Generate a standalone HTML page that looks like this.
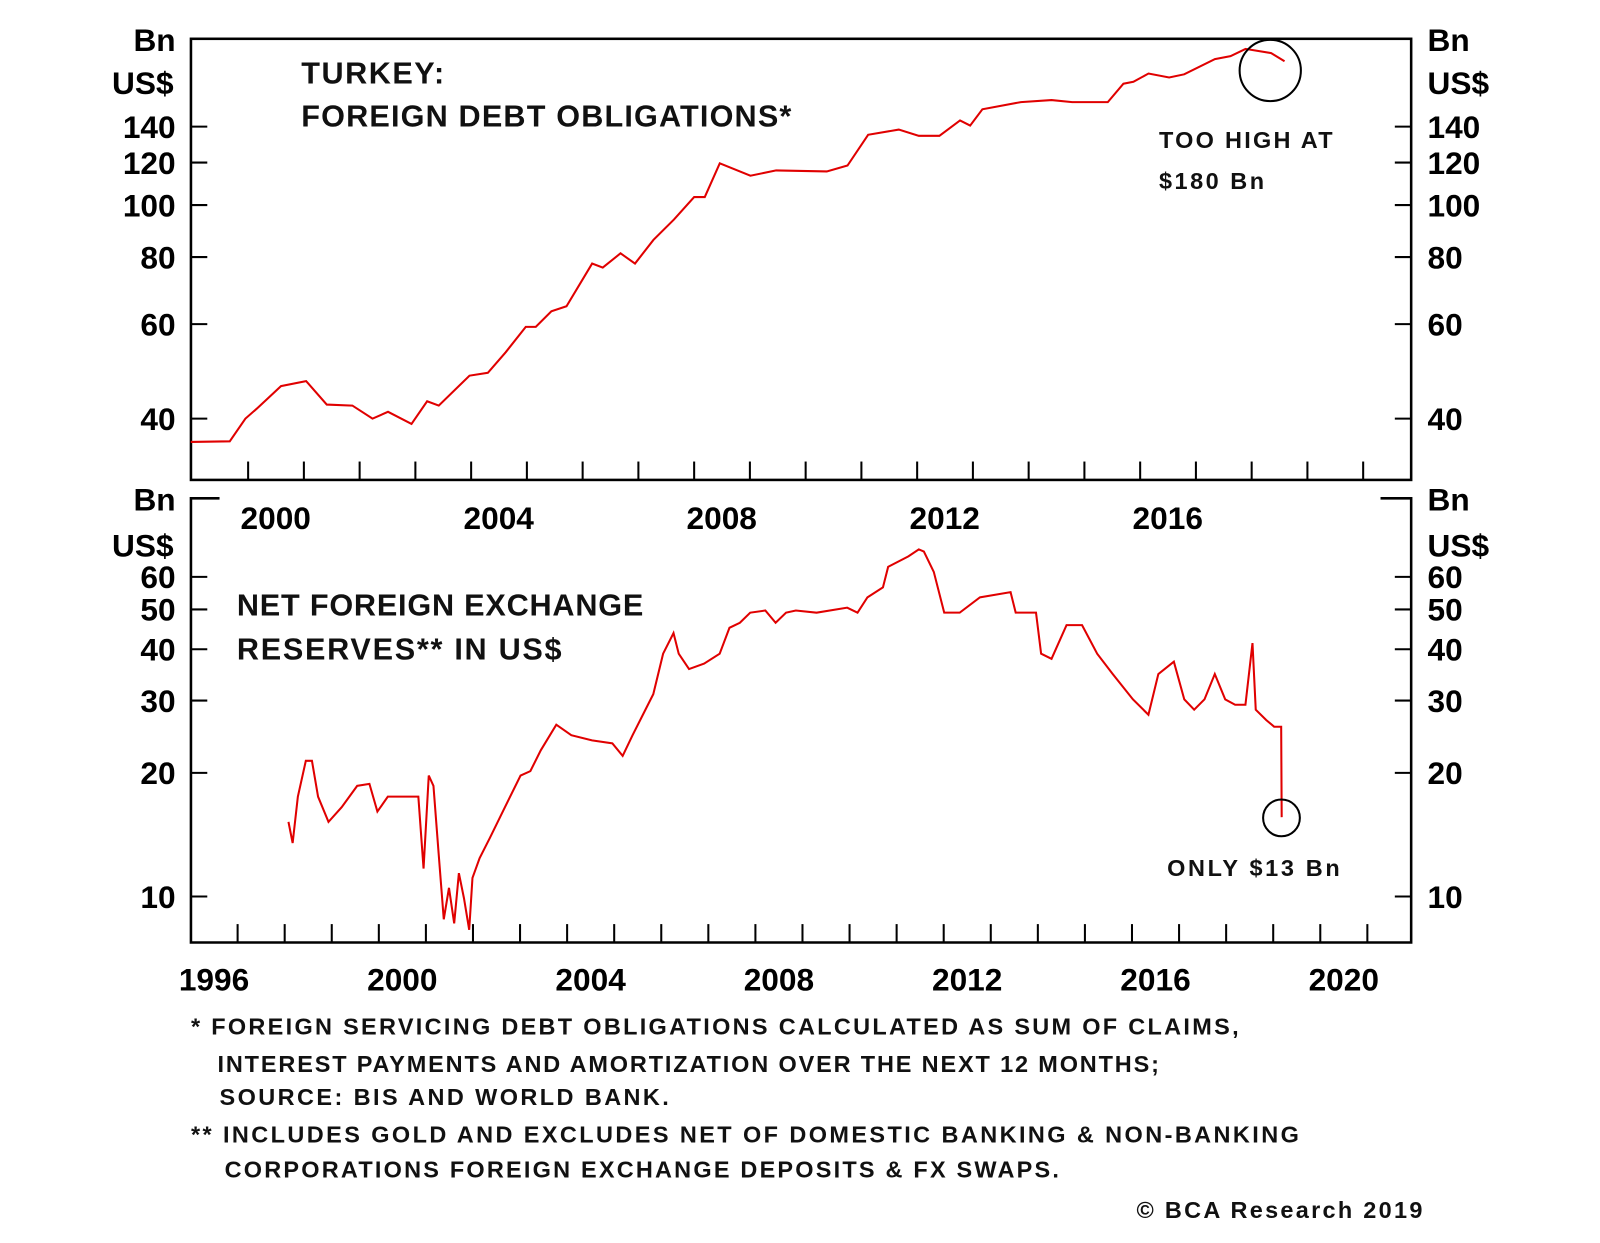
<!DOCTYPE html>
<html><head><meta charset="utf-8">
<style>
body{margin:0;background:#fff;}
svg{display:block;font-family:"Liberation Sans",Arial,sans-serif;font-weight:bold;}
</style></head>
<body>
<svg width="1600" height="1243" viewBox="0 0 1600 1243" xmlns="http://www.w3.org/2000/svg">
<rect width="1600" height="1243" fill="#fff"/>
<g id="chart" transform="scale(1.0211)">
<g id="top"></g>
<g id="bot"></g>
<g font-size="23" fill="#111" lengthAdjust="spacing">
<text x="187" y="1013" textLength="1026">*  FOREIGN SERVICING DEBT OBLIGATIONS CALCULATED AS SUM OF CLAIMS,</text>
<text x="213" y="1050" textLength="922">INTEREST PAYMENTS AND AMORTIZATION OVER THE NEXT 12 MONTHS;</text>
<text x="215" y="1082" textLength="440">SOURCE: BIS AND WORLD BANK.</text>
<text x="187" y="1119" textLength="1085">** INCLUDES GOLD AND EXCLUDES NET OF DOMESTIC BANKING &amp; NON-BANKING</text>
<text x="220" y="1153" textLength="817">CORPORATIONS FOREIGN EXCHANGE DEPOSITS &amp; FX SWAPS.</text>
<text x="1113" y="1193" textLength="280">© BCA Research 2019</text>
</g>
</g>
</svg>
<script>
const topYears=[1998.97,1999.67,1999.95,2000.16,2000.59,2001.04,2001.41,2001.87,2002.23,2002.51,2002.93,2003.21,2003.42,2003.97,2004.30,2004.62,2004.98,2005.16,2005.44,2005.71,2006.17,2006.36,2006.68,2006.94,2007.27,2007.64,2008.00,2008.19,2008.46,2009.01,2009.47,2010.38,2010.75,2011.12,2011.67,2012.03,2012.40,2012.77,2012.95,2013.17,2013.86,2014.41,2014.78,2015.42,2015.70,2015.88,2016.15,2016.52,2016.79,2017.34,2017.62,2017.89,2018.35,2018.59];
const topValues=[36.2,36.3,40,41.8,46.0,47.0,42.5,42.3,40,41.2,39.1,43.1,42.3,48.1,48.7,53.2,59.3,59.3,63.4,64.8,77.8,76.5,81.3,77.8,86.1,94.0,103.5,103.5,119.6,113.4,116.0,115.5,118.5,135.2,138.2,134.6,134.6,143.7,140.6,150.8,155.5,156.9,155.5,155.5,168.3,169.7,175.8,172.8,175.2,187,189.4,195.4,191.9,185.3];
const topTicks=[40,60,80,100,120,140];
const topXLabels=[2000,2004,2008,2012,2016];
const botYears=[1998.08,1998.17,1998.28,1998.45,1998.58,1998.71,1998.93,1999.21,1999.54,1999.80,1999.97,2000.19,2000.51,2000.84,2000.95,2001.06,2001.16,2001.27,2001.38,2001.49,2001.60,2001.70,2001.81,2001.92,2001.99,2002.14,2002.36,2002.68,2003.01,2003.22,2003.44,2003.77,2004.09,2004.53,2004.96,2005.18,2005.39,2005.61,2005.83,2006.04,2006.26,2006.37,2006.59,2006.91,2007.24,2007.45,2007.67,2007.89,2008.21,2008.43,2008.65,2008.86,2009.30,2009.95,2010.17,2010.38,2010.71,2010.82,2011.25,2011.47,2011.58,2011.79,2012.01,2012.34,2012.77,2013.42,2013.53,2013.96,2014.07,2014.29,2014.61,2014.94,2015.26,2015.59,2016.02,2016.35,2016.56,2016.89,2017.11,2017.32,2017.54,2017.76,2017.98,2018.19,2018.41,2018.56,2018.63,2018.85,2019.02,2019.17,2019.18];
const botValues=[15.2,13.5,17.5,21.4,21.4,17.5,15.2,16.5,18.6,18.8,16.1,17.5,17.5,17.5,11.7,19.7,18.6,12.8,8.8,10.5,8.6,11.4,9.9,8.3,11.1,12.4,13.9,16.5,19.7,20.2,22.7,26.2,24.7,24.0,23.6,22.0,24.7,27.7,31.1,39.0,43.8,39.0,35.8,36.9,39.0,45.1,46.4,49.1,49.7,46.4,49.1,49.7,49.1,50.5,49.1,53.5,56.6,63.5,67.3,70.0,69.2,61.7,49.1,49.1,53.5,55.1,49.1,49.1,39.0,37.9,45.8,45.8,39.0,34.8,30.2,27.7,34.8,37.3,30.2,28.5,30.2,34.8,30.2,29.3,29.3,41.4,28.5,26.9,25.9,25.9,15.6];
const botTicks=[10,20,30,40,50,60];
const botXLabels=[1996,2000,2004,2008,2012,2016,2020];

const NS="http://www.w3.org/2000/svg";
function mk(p,t,a){const e=document.createElementNS(NS,t);for(const k in a)e.setAttribute(k,a[k]);p.appendChild(e);return e;}
const L=187,R=1382;
const tx=y=>243+(y-2000)*54.6, ty=v=>410-(Math.log(v)-Math.log(40))*228.3;
const bx=y=>371+(y-2000)*46.1, by=v=>878-(Math.log(v)-Math.log(10))*174.7;
const T=document.getElementById('top'), B=document.getElementById('bot'), C=document.getElementById('chart');
let f=mk(T,'rect',{x:L,y:38,width:R-L,height:432,fill:'none',stroke:'#000','stroke-width':2.5});


for(let yr=2000;yr<=2020;yr++){let t=mk(T,'line',{x1:tx(yr),x2:tx(yr),y1:470,y2:452,stroke:'#000','stroke-width':2});

}
topTicks.forEach(v=>{const y=ty(v);
[[L,L+16],[R-16,R]].forEach(s=>{let t=mk(T,'line',{x1:s[0],x2:s[1],y1:y,y2:y,stroke:'#000','stroke-width':2});

});
let a=mk(T,'text',{x:172,y:y+11,'text-anchor':'end','font-size':31});a.textContent=v;


let b=mk(T,'text',{x:1398,y:y+11,'font-size':31});b.textContent=v;

});
topXLabels.forEach(yr=>{let a=mk(T,'text',{x:tx(yr)+27,y:518,'text-anchor':'middle','font-size':31});a.textContent=yr;

});
let tp=mk(T,'path',{d:topYears.map((y,i)=>(i?'L':'M')+tx(y).toFixed(1)+','+ty(topValues[i]).toFixed(1)).join(''),fill:'none',stroke:'#e00000','stroke-width':2});


let fb=mk(B,'path',{d:`M${L+28},488H${L}V923H${R}V488H${R-30}`,fill:'none',stroke:'#000','stroke-width':2.5});


for(let yr=1997;yr<=2021;yr++){let t=mk(B,'line',{x1:bx(yr),x2:bx(yr),y1:923,y2:905,stroke:'#000','stroke-width':2});

}
botTicks.forEach(v=>{const y=by(v);
[[L,L+16],[R-16,R]].forEach(s=>{let t=mk(B,'line',{x1:s[0],x2:s[1],y1:y,y2:y,stroke:'#000','stroke-width':2});

});
let a=mk(B,'text',{x:172,y:y+11,'text-anchor':'end','font-size':31});a.textContent=v;


let b=mk(B,'text',{x:1398,y:y+11,'font-size':31});b.textContent=v;

});
botXLabels.forEach(yr=>{let a=mk(B,'text',{x:bx(yr)+23,y:970,'text-anchor':'middle','font-size':31});a.textContent=yr;

});
let bp=mk(B,'path',{d:botYears.map((y,i)=>(i?'L':'M')+bx(y).toFixed(1)+','+by(botValues[i]).toFixed(1)).join(''),fill:'none',stroke:'#e00000','stroke-width':2});


const labels=[[172,50,'end','Bn'],[170,92,'end','US$'],[1398,50,'start','Bn'],[1398,92,'start','US$'],[172,500,'end','Bn'],[170,545,'end','US$'],[1398,500,'start','Bn'],[1398,545,'start','US$']];
labels.forEach(l=>{let a=mk(C,'text',{x:l[0],y:l[1],'text-anchor':l[2],'font-size':31});a.textContent=l[3];

});
const titles=[[295,82,'TURKEY:',30,140],[295,124,'FOREIGN DEBT OBLIGATIONS*',30,480],[232,603,'NET FOREIGN EXCHANGE',30,398],[232,646,'RESERVES** IN US$',30,318],[1135,145,'TOO HIGH AT',23,170],[1135,185,'$180 Bn',23,103],[1143,858,'ONLY $13 Bn',23,169]];
titles.forEach(l=>{let a=mk(C,'text',{x:l[0],y:l[1],'font-size':l[3],fill:'#111',textLength:l[4],lengthAdjust:'spacing'});a.textContent=l[2];

});
let c1=mk(T,'circle',{cx:1244,cy:69,r:30,fill:'none',stroke:'#000','stroke-width':2});


let c2=mk(B,'circle',{cx:1255,cy:801,r:18,fill:'none',stroke:'#000','stroke-width':2});


</script>
</body></html>
